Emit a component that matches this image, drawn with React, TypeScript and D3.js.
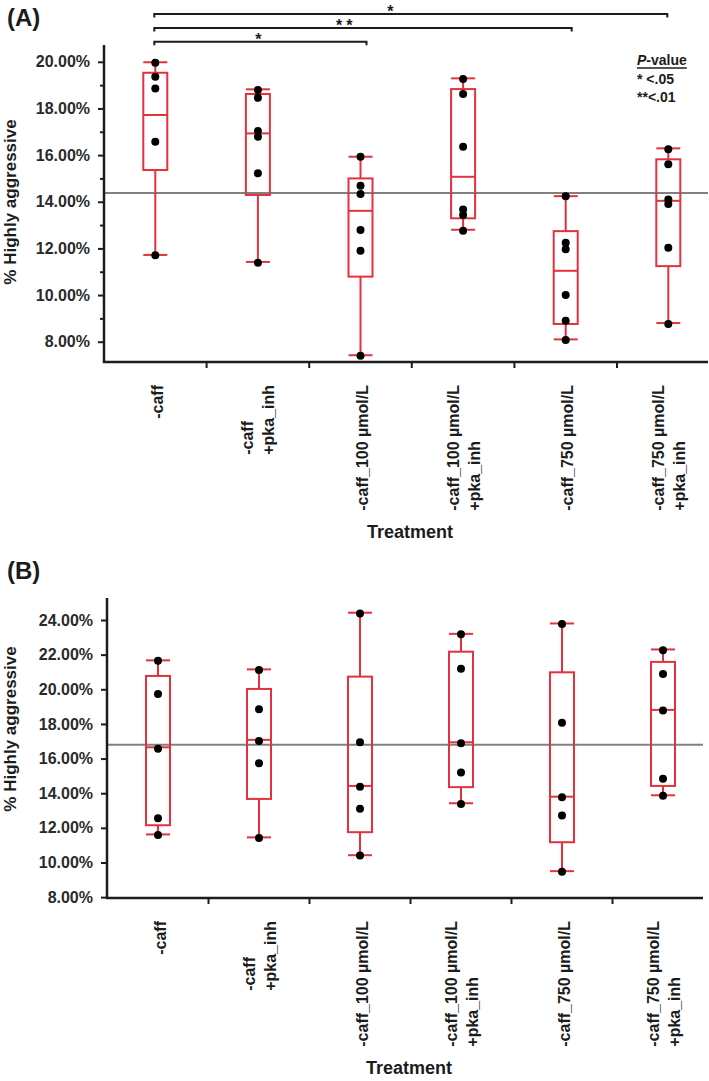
import React, { useEffect, useRef } from 'react';
import * as d3 from 'd3';

// Category labels (line breaks as in the figure)
const treatments = [
  '-caff',
  '-caff\n+pka_inh',
  '-caff_100 µmol/L',
  '-caff_100 µmol/L\n+pka_inh',
  '-caff_750 µmol/L',
  '-caff_750 µmol/L\n+pka_inh',
];

// Panel A box statistics (% highly aggressive)
const minA = [11.72, 11.42, 7.42, 12.8, 8.1, 8.8];
const q1A = [15.36, 14.29, 10.79, 13.29, 8.76, 11.24];
const medA = [17.72, 16.93, 13.61, 15.07, 11.04, 14.04];
const q3A = [19.53, 18.62, 15.0, 18.83, 12.74, 15.82];
const maxA = [19.98, 18.82, 15.93, 19.29, 14.24, 16.29];
const pointsA = [
  [19.96, 19.36, 18.86, 16.57, 11.71],
  [18.79, 18.46, 17.03, 16.79, 15.22, 11.39],
  [15.93, 14.69, 14.33, 12.79, 11.9, 7.4],
  [19.26, 18.62, 16.36, 13.67, 13.43, 12.76],
  [14.24, 12.24, 11.96, 10.0, 8.9, 8.07],
  [16.25, 15.61, 14.1, 13.9, 12.03, 8.76],
];
const refA = 14.38;
const ticksA = [8, 10, 12, 14, 16, 18, 20];
const minorTicksA = [9, 11, 13, 15, 17, 19];

// Panel B box statistics
const minB = [11.62, 11.45, 10.42, 13.42, 9.5, 13.88];
const q1B = [12.15, 13.67, 11.75, 14.35, 11.17, 14.42];
const medB = [16.65, 17.08, 14.42, 16.94, 13.8, 18.81];
const q3B = [20.77, 20.02, 20.73, 22.17, 20.98, 21.58];
const maxB = [21.67, 21.15, 24.42, 23.2, 23.8, 22.3];
const pointsB = [
  [21.65, 19.73, 16.56, 12.56, 11.58],
  [21.12, 18.85, 17.02, 15.73, 11.42],
  [24.38, 16.94, 14.38, 13.1, 10.4],
  [23.17, 21.19, 16.88, 15.19, 13.38],
  [23.77, 18.07, 13.77, 12.71, 9.46],
  [22.25, 20.88, 18.77, 14.83, 13.85],
];
const refB = 16.8;
const ticksB = [8, 10, 12, 14, 16, 18, 20, 22, 24];

// Significance comparisons for panel A
const bracketFrom = [0, 0, 0];
const bracketTo = [2, 4, 5];
const bracketMarks = ['*', '**', '*'];

const legendLines = ['* <.05', '**<.01'];

const FONT = '"Liberation Sans", Arial, Helvetica, sans-serif';
const RED = '#e3323d';
const INK = '#1c1c1c';

interface Panel {
  tag: string;
  tagY: number;
  left: number;
  right: number;
  top: number;
  bottom: number;
  xRange: [number, number];
  yDomain: [number, number];
  ticks: number[];
  minor: number[];
  ref: number;
  mins: number[];
  q1s: number[];
  meds: number[];
  q3s: number[];
  maxs: number[];
  points: number[][];
  titleY: number;
  sig: boolean;
}

const panels: Panel[] = [
  {
    tag: '(A)', tagY: 26, left: 104, right: 708, top: 45, bottom: 362,
    xRange: [104, 719.6], yDomain: [7.13, 20.72],
    ticks: ticksA, minor: minorTicksA, ref: refA,
    mins: minA, q1s: q1A, meds: medA, q3s: q3A, maxs: maxA, points: pointsA,
    titleY: 202, sig: true,
  },
  {
    tag: '(B)', tagY: 579, left: 107, right: 703, top: 598, bottom: 898,
    xRange: [107.5, 713.5], yDomain: [7.95, 25.27],
    ticks: ticksB, minor: [], ref: refB,
    mins: minB, q1s: q1B, meds: medB, q3s: q3B, maxs: maxB, points: pointsB,
    titleY: 729, sig: false,
  },
];

// bracket layout: where the asterisks sit along each bracket, and right-end nudges
const markAt = [0.49, 0.46, 0.46];
const rightNudge = [6, 6, -1];

function drawPanel(svg: d3.Selection<SVGSVGElement, unknown, null, undefined>, p: Panel) {
  const x = d3.scaleBand<string>().domain(treatments).range(p.xRange).padding(0);
  const y = d3.scaleLinear().domain(p.yDomain).range([p.bottom, p.top]);
  const g = svg.append('g').attr('font-family', FONT);
  const cx = (i: number) => (x(treatments[i]) || 0) + x.bandwidth() / 2;
  const boxW = 24;

  // Panel tag
  g.append('text')
    .attr('x', 7).attr('y', p.tagY)
    .attr('font-size', 24).attr('font-weight', 700).attr('fill', INK)
    .text(p.tag);

  // Reference line
  g.append('line')
    .attr('x1', p.left).attr('x2', p.right)
    .attr('y1', y(p.ref)).attr('y2', y(p.ref))
    .attr('stroke', '#808080').attr('stroke-width', 2);

  // Boxes
  const idx = d3.range(treatments.length);
  const boxes = g.selectAll('.box').data(idx).enter().append('g').attr('class', 'box');
  boxes.append('line')
    .attr('x1', cx).attr('x2', cx)
    .attr('y1', (i) => y(p.maxs[i])).attr('y2', (i) => y(p.q3s[i]))
    .attr('stroke', RED).attr('stroke-width', 2);
  boxes.append('line')
    .attr('x1', cx).attr('x2', cx)
    .attr('y1', (i) => y(p.q1s[i])).attr('y2', (i) => y(p.mins[i]))
    .attr('stroke', RED).attr('stroke-width', 2);
  [p.maxs, p.mins].forEach((arr) => {
    boxes.append('line')
      .attr('x1', (i) => cx(i) - boxW / 2).attr('x2', (i) => cx(i) + boxW / 2)
      .attr('y1', (i) => y(arr[i])).attr('y2', (i) => y(arr[i]))
      .attr('stroke', RED).attr('stroke-width', 2);
  });
  boxes.append('rect')
    .attr('x', (i) => cx(i) - boxW / 2).attr('width', boxW)
    .attr('y', (i) => y(p.q3s[i]))
    .attr('height', (i) => y(p.q1s[i]) - y(p.q3s[i]))
    .attr('fill', 'none').attr('stroke', RED).attr('stroke-width', 2);
  boxes.append('line')
    .attr('x1', (i) => cx(i) - boxW / 2).attr('x2', (i) => cx(i) + boxW / 2)
    .attr('y1', (i) => y(p.meds[i])).attr('y2', (i) => y(p.meds[i]))
    .attr('stroke', RED).attr('stroke-width', 2);

  // Points
  idx.forEach((i) => {
    g.selectAll(null).data(p.points[i]).enter().append('circle')
      .attr('cx', cx(i)).attr('cy', (d) => y(d)).attr('r', 4)
      .attr('fill', '#000');
  });

  // Y axis
  const ya = g.append('g')
    .attr('transform', `translate(${p.left},0)`)
    .call(d3.axisLeft(y).tickValues(p.ticks).tickSize(6).tickPadding(8)
      .tickFormat((d) => `${(+d).toFixed(2)}%`));
  ya.attr('font-family', FONT).attr('font-size', 16).attr('font-weight', 700);
  ya.select('.domain').remove();
  ya.selectAll('line').attr('stroke', INK).attr('stroke-width', 2);
  ya.selectAll('text').attr('fill', '#2a2a2a');
  if (p.minor.length) {
    const ym = g.append('g')
      .attr('transform', `translate(${p.left},0)`)
      .call(d3.axisLeft(y).tickValues(p.minor).tickSize(4).tickFormat(() => ''));
    ym.select('.domain').remove();
    ym.selectAll('line').attr('stroke', INK).attr('stroke-width', 2);
  }

  // Axis lines
  g.append('line')
    .attr('x1', p.left).attr('x2', p.left).attr('y1', p.top).attr('y2', p.bottom + 1)
    .attr('stroke', INK).attr('stroke-width', 2.5);
  g.append('line')
    .attr('x1', p.left - 1).attr('x2', p.right).attr('y1', p.bottom).attr('y2', p.bottom)
    .attr('stroke', INK).attr('stroke-width', 2.5);

  // Category boundary ticks
  g.selectAll(null).data(treatments.slice(1)).enter().append('line')
    .attr('x1', (d) => x(d) || 0).attr('x2', (d) => x(d) || 0)
    .attr('y1', p.bottom).attr('y2', p.bottom + 6)
    .attr('stroke', INK).attr('stroke-width', 2);

  // Category labels (rotated, lines start-aligned, block top at bottom + 23)
  const labelTop = p.bottom + 23;
  treatments.forEach((t, i) => {
    const lines = t.split('\n');
    const offsets = lines.length === 1 ? [2] : [-10, 11];
    const nodes = lines.map((ln, j) =>
      g.append('text')
        .attr('font-size', 16).attr('font-weight', 700).attr('fill', INK)
        .attr('text-anchor', 'start').attr('dominant-baseline', 'central')
        .attr('data-x', cx(i) + offsets[j])
        .text(ln)
    );
    const maxLen = d3.max(nodes, (n) => (n.node() as SVGTextElement).getComputedTextLength()) || 0;
    nodes.forEach((n) => {
      n.attr('transform', `translate(${n.attr('data-x')},${labelTop + maxLen}) rotate(-90)`);
    });
  });

  // Axis titles
  g.append('text')
    .attr('transform', `translate(10,${p.titleY}) rotate(-90)`)
    .attr('text-anchor', 'middle').attr('dominant-baseline', 'central')
    .attr('font-size', 17).attr('font-weight', 700).attr('fill', INK)
    .text('% Highly aggressive');
  g.append('text')
    .attr('x', (p.left + p.right) / 2 + 4).attr('y', p.bottom + 176)
    .attr('text-anchor', 'middle')
    .attr('font-size', 18).attr('font-weight', 700).attr('fill', INK)
    .text('Treatment');

  if (p.sig) {
    // Significance brackets
    bracketMarks.forEach((m, k) => {
      const ly = 41.7 - 13.8 * k;
      const x1 = cx(bracketFrom[k]) - 1;
      const x2 = cx(bracketTo[k]) + rightNudge[k];
      g.append('path')
        .attr('d', `M${x1},${ly + 3.5}V${ly}H${x2}V${ly + 3.5}`)
        .attr('fill', 'none').attr('stroke', INK).attr('stroke-width', 2);
      g.append('text')
        .attr('x', x1 + (x2 - x1) * markAt[k]).attr('y', ly + 3)
        .attr('text-anchor', 'middle')
        .attr('font-size', 16).attr('font-weight', 700).attr('fill', INK)
        .attr('letter-spacing', m.length > 1 ? 4 : 0)
        .text(m);
    });

    // P-value legend
    const lx = 637;
    const head = g.append('text')
      .attr('x', lx).attr('y', 65)
      .attr('font-size', 14).attr('font-weight', 700).attr('fill', INK);
    head.append('tspan').attr('font-style', 'italic').text('P');
    head.append('tspan').text('-value');
    const hw = (head.node() as SVGTextElement).getComputedTextLength();
    g.append('line')
      .attr('x1', lx).attr('x2', lx + hw).attr('y1', 68).attr('y2', 68)
      .attr('stroke', INK).attr('stroke-width', 1.5);
    legendLines.forEach((s, k) => {
      g.append('text')
        .attr('x', lx).attr('y', 84 + 18 * k)
        .attr('font-size', 14).attr('font-weight', 700).attr('fill', INK)
        .text(s);
    });
  }
}

export default function App() {
  const svgRef = useRef<SVGSVGElement>(null);

  useEffect(() => {
    if (!svgRef.current) return;
    const svg = d3.select(svgRef.current);
    svg.selectAll('*').remove();
    panels.forEach((p) => drawPanel(svg, p));
  }, []);

  return (
    <svg
      ref={svgRef}
      width={709}
      height={1081}
      style={{ position: 'absolute', left: 0, top: 0, background: '#fff' }}
    />
  );
}
